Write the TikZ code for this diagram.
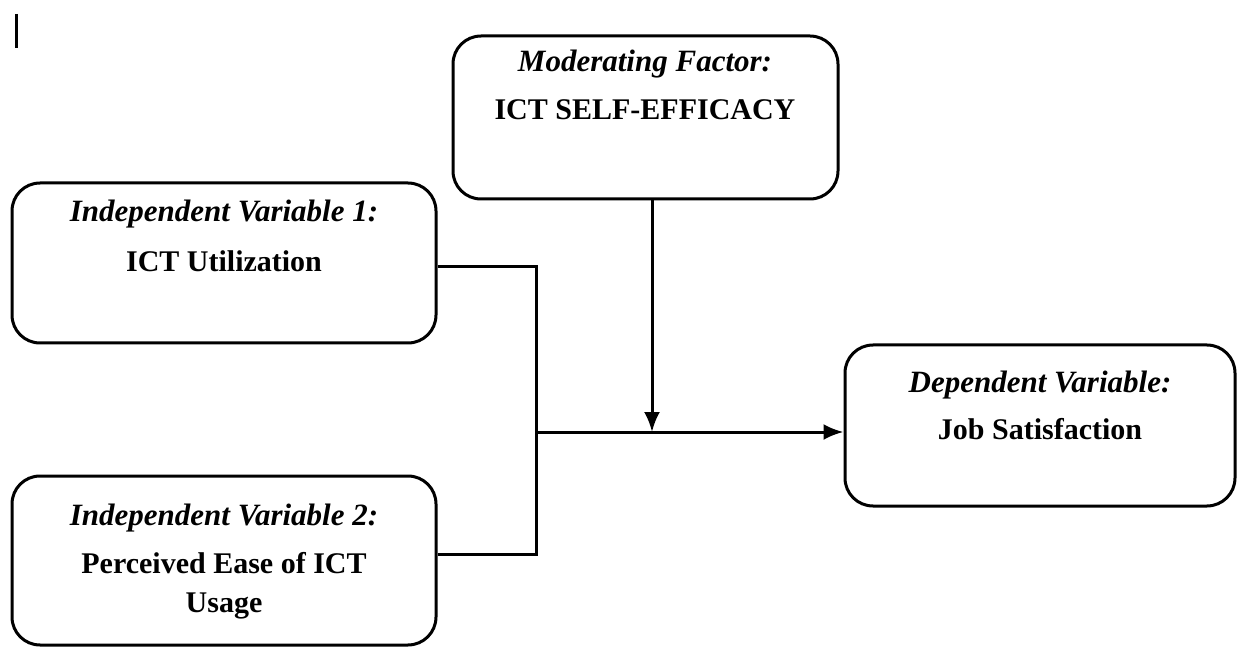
\documentclass[tikz,border=0pt]{standalone}
\usepackage{fontspec}
\setmainfont{Liberation Serif}
\usetikzlibrary{arrows.meta}
\begin{document}
\begin{tikzpicture}[x=0.5pt,y=-0.5pt,
  box/.style={draw, line width=1.5pt, rounded corners=14pt, inner sep=0pt},
  lab/.style={font=\fontsize{15.5}{18}\selectfont\bfseries\itshape, inner sep=0pt},
  val/.style={font=\fontsize{15}{18}\selectfont\bfseries, inner sep=0pt},
  conn/.style={line width=1.5pt},
  arr/.style={conn, -{Latex[length=10pt,width=8pt]}}]
\useasboundingbox (0,0) rectangle (1239,647);
% stray tick mark
\draw[line width=1.5pt] (16,14) -- (16,48);
% boxes
\node[box, minimum width=192.5pt, minimum height=81.5pt] (mod) at (645.5,117.5) {};
\node[box, minimum width=212pt, minimum height=80pt] (iv1) at (224,263) {};
\node[box, minimum width=212pt, minimum height=84.5pt] (iv2) at (224,560.5) {};
\node[box, minimum width=195pt, minimum height=80.5pt] (dv) at (1040,425.5) {};
% texts
\node[lab] (modl) at (645,64) {Moderating Factor:};
\node[val] (modv) at (645,110) {ICT SELF-EFFICACY};
\node[lab] (iv1l) at (224,214) {Independent Variable 1:};
\node[val] (iv1v) at (224,261) {ICT Utilization};
\node[lab] (iv2l) at (224,518) {Independent Variable 2:};
\node[val] (iv2v) at (224,563) {Perceived Ease of ICT};
\node[val] (iv2w) at (224,606) {Usage};
\node[lab] (dvl) at (1040,385) {Dependent Variable:};
\node[val] (dvv) at (1040,429) {Job Satisfaction};
% connectors
\coordinate (j) at (536,432);
\coordinate (m) at (652,432);
\draw[conn] ([yshift=-2pt]iv1.east) -| (j);
\draw[conn] ([yshift=3pt]iv2.east) -| (j);
\draw[arr] (j) -- (j -| dv.west);
\draw[arr] (m |- mod.south) -- (m);
\end{tikzpicture}
\end{document}
